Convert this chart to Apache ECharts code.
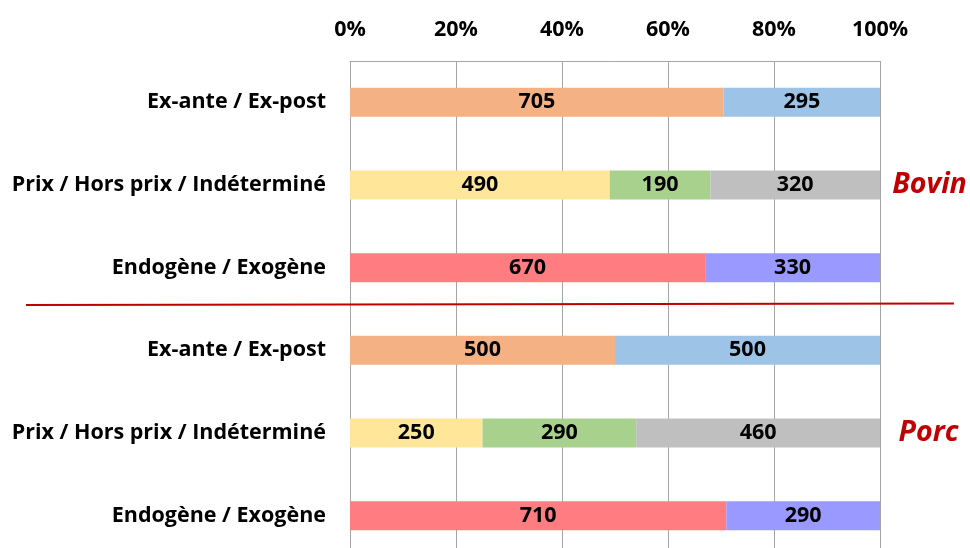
<!DOCTYPE html>
<html>
<head>
<meta charset="utf-8">
<style>
  html, body { margin: 0; padding: 0; background: #fff; overflow: hidden; }
  #chart { width: 970px; height: 557px; }
</style>
<script src="https://cdn.jsdelivr.net/npm/echarts@6/dist/echarts.min.js"></script>
</head>
<body>
<div id="chart"></div>
<script>
// Row labels, top to bottom (Bovin block, then Porc block)
const categories = [
  'Ex-ante / Ex-post',
  'Prix / Hors prix / Indéterminé',
  'Endogène / Exogène',
  'Ex-ante / Ex-post',
  'Prix / Hors prix / Indéterminé',
  'Endogène / Exogène'
];

// Values per segment: [Bovin, Porc]
const exAnte      = [705, 500];
const exPost      = [295, 500];
const prix        = [490, 250];
const horsPrix    = [190, 290];
const indetermine = [320, 460];
const endogene    = [670, 710];
const exogene     = [330, 290];

const xTicks = [0, 200, 400, 600, 800, 1000];
const groupLabels = ['Bovin', 'Porc'];

const FONT = 'Open Sans';
const SIZE = 21.5;

// Place a pair of values on their two rows (one per block)
function rowsData(values, rowInBlock) {
  const d = categories.map(() => null);
  d[rowInBlock] = values[0];
  d[rowInBlock + 3] = values[1];
  return d;
}

function seg(name, values, rowInBlock, color) {
  return {
    name: name,
    type: 'bar',
    stack: 'total',
    barWidth: 29,
    data: rowsData(values, rowInBlock),
    itemStyle: { color: color },
    label: {
      show: true,
      position: 'inside',
      color: '#000',
      fontFamily: FONT,
      fontWeight: 'bold',
      fontSize: SIZE,
      formatter: p => (p.value == null ? '' : String(p.value))
    }
  };
}

const chart = echarts.init(document.getElementById('chart'));

chart.setOption({
  animation: false,
  backgroundColor: '#fff',
  grid: { left: 350, right: 90, top: 61, bottom: 0, containLabel: false },
  xAxis: {
    type: 'value',
    position: 'top',
    min: xTicks[0],
    max: xTicks[xTicks.length - 1],
    interval: 200,
    axisLine: { show: true, lineStyle: { color: '#A6A6A6', width: 1 } },
    axisTick: { show: false },
    axisLabel: {
      margin: 20,
      color: '#000',
      fontFamily: FONT,
      fontWeight: 'bold',
      fontSize: SIZE,
      formatter: v => (v / 10) + '%'
    },
    splitLine: { show: true, lineStyle: { color: '#A6A6A6', width: 1 } }
  },
  yAxis: {
    type: 'category',
    inverse: true,
    data: categories,
    axisLine: { show: false },
    axisTick: { show: false },
    splitLine: { show: false },
    axisLabel: {
      margin: 24,
      color: '#000',
      fontFamily: FONT,
      fontWeight: 'bold',
      fontSize: SIZE
    }
  },
  series: [
    seg('Ex-ante', exAnte, 0, '#F4B183'),
    seg('Ex-post', exPost, 0, '#9DC3E6'),
    seg('Prix', prix, 1, '#FFE699'),
    seg('Hors prix', horsPrix, 1, '#A9D18E'),
    seg('Indéterminé', indetermine, 1, '#BFBFBF'),
    seg('Endogène', endogene, 2, '#FF7C80'),
    seg('Exogène', exogene, 2, '#9999FF')
  ]
});

// Group names beside the middle row of each block, and the separator line
const yBovin = chart.convertToPixel({ yAxisIndex: 0 }, 1);
const yPorc = chart.convertToPixel({ yAxisIndex: 0 }, 4);

chart.setOption({
  graphic: [
    {
      type: 'line',
      shape: { x1: 26, y1: 305, x2: 954, y2: 303.5 },
      style: { stroke: '#C00000', lineWidth: 2 }
    },
    {
      type: 'text',
      x: 929.5, y: yBovin,
      style: {
        text: groupLabels[0],
        fill: '#C00000',
        font: 'italic bold 28.5px ' + FONT,
        align: 'center',
        verticalAlign: 'middle'
      }
    },
    {
      type: 'text',
      x: 928.5, y: yPorc,
      style: {
        text: groupLabels[1],
        fill: '#C00000',
        font: 'italic bold 28.5px ' + FONT,
        align: 'center',
        verticalAlign: 'middle'
      }
    }
  ]
});
</script>
</body>
</html>
